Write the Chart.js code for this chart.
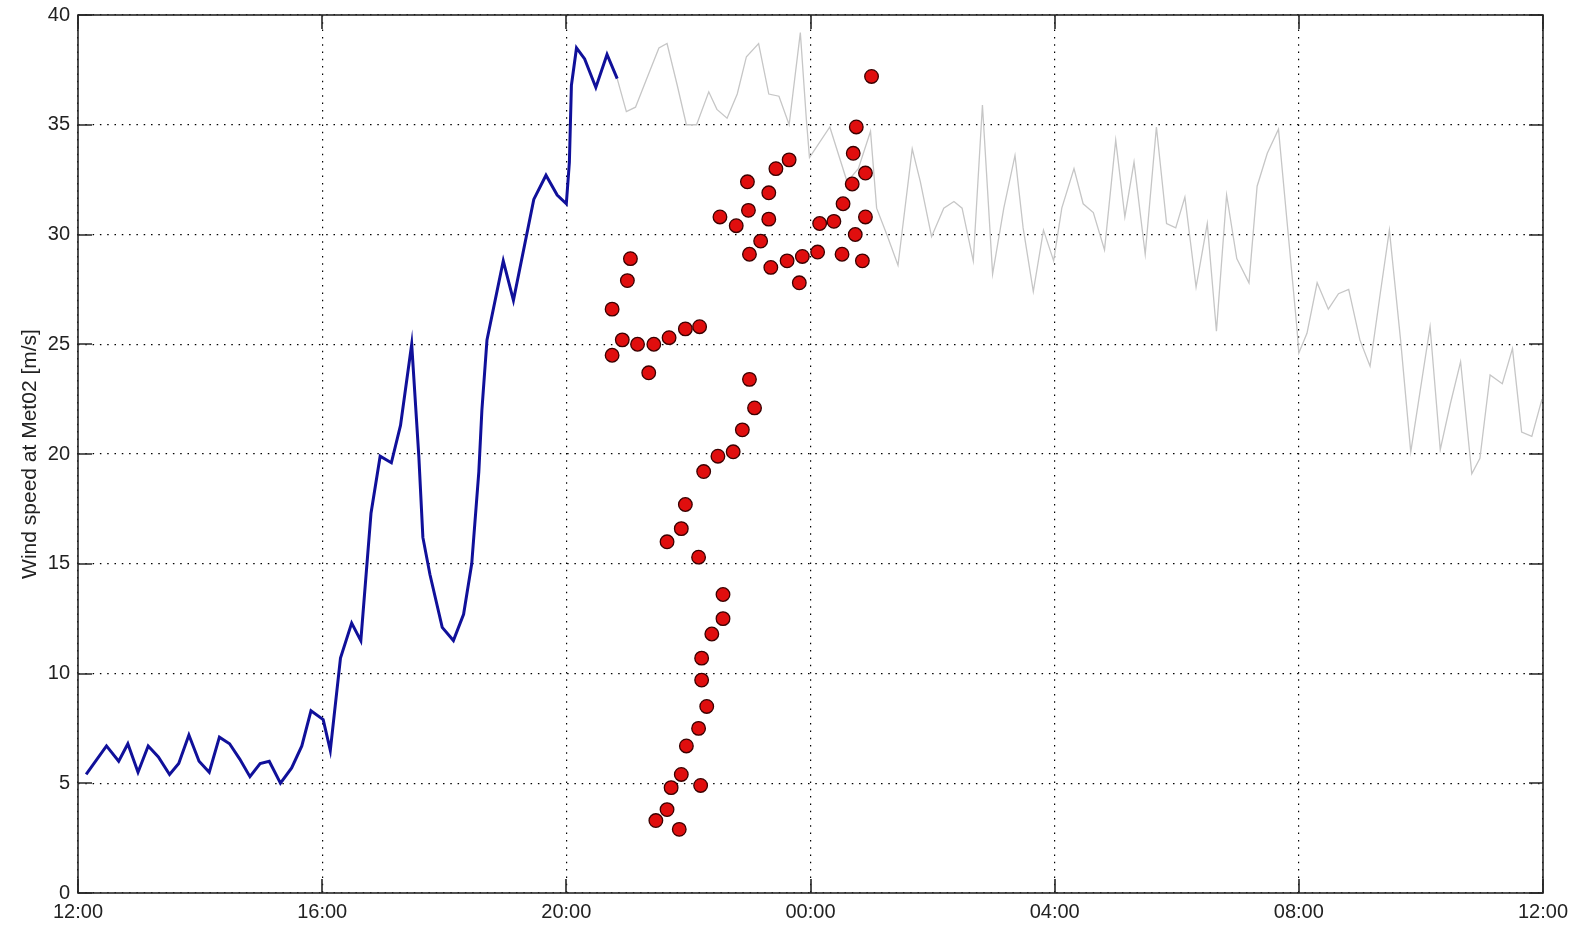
<!DOCTYPE html>
<html>
<head>
<meta charset="utf-8">
<script src="https://cdn.jsdelivr.net/npm/chart.js@4.4.1/dist/chart.umd.min.js"></script>
<style>
  body { margin: 0; background: #fff; }
  canvas { display: block; }
</style>
</head>
<body>
<canvas id="windChart" width="1580" height="926"></canvas>
<script>
// time is minutes after 12:00 on day 1
const xTickLabels = ['12:00', '16:00', '20:00', '00:00', '04:00', '08:00', '12:00'];

const measuredMin = [8, 28, 40, 49, 59, 69, 79, 90, 99, 109, 119, 129, 139, 149, 159, 169, 179, 188, 199, 210,
    220, 229, 241, 248, 258, 269, 278, 288, 297, 308, 317, 328, 335, 339, 346, 358, 369, 379, 387, 394,
    397, 402, 418, 428, 448, 460, 471, 480, 483, 485, 490, 498, 509, 520, 530];
const measuredSpeed = [5.4, 6.7, 6.0, 6.8, 5.5, 6.7, 6.2, 5.4, 5.9, 7.2, 6.0, 5.5, 7.1, 6.8, 6.1, 5.3, 5.9, 6.0, 5.0, 5.7,
    6.7, 8.3, 7.9, 6.5, 10.7, 12.3, 11.5, 17.3, 19.9, 19.6, 21.3, 25.0, 19.9, 16.2, 14.5, 12.1, 11.5, 12.7, 15.0, 19.2,
    22.0, 25.2, 28.8, 27.0, 31.6, 32.7, 31.8, 31.4, 33.3, 36.8, 38.5, 38.0, 36.7, 38.2, 37.1];

const laterMin = [530, 539, 548, 559, 571, 579, 589, 598, 608, 620, 628, 638, 648, 657, 669, 679, 689, 699, 710, 716,
    719, 739, 756, 767, 779, 785, 795, 806, 820, 828, 839, 851, 861, 869, 880, 889, 899, 910, 921, 929,
    939, 949, 959, 967, 979, 988, 998, 1009, 1020, 1029, 1038, 1049, 1060, 1070, 1079, 1088, 1099, 1110, 1119, 1129,
    1139, 1151, 1159, 1169, 1180, 1198, 1200, 1208, 1218, 1229, 1239, 1249, 1260, 1270, 1280, 1289, 1300, 1310, 1319, 1329,
    1339, 1349, 1359, 1370, 1378, 1388, 1400, 1410, 1419, 1429, 1439];
const laterSpeed = [37.1, 35.6, 35.8, 37.1, 38.5, 38.7, 36.8, 35.0, 35.0, 36.5, 35.7, 35.3, 36.4, 38.1, 38.7, 36.4, 36.3, 35.0, 39.2, 35.2,
    33.5, 34.9, 32.4, 33.0, 34.7, 31.2, 30.0, 28.6, 33.9, 32.4, 29.9, 31.2, 31.5, 31.2, 28.8, 35.9, 28.2, 31.2, 33.6, 30.3,
    27.4, 30.2, 28.8, 31.2, 33.0, 31.4, 31.0, 29.3, 34.3, 30.8, 33.3, 29.1, 34.9, 30.5, 30.3, 31.7, 27.6, 30.5, 25.6, 31.8,
    28.9, 27.8, 32.2, 33.7, 34.8, 25.8, 24.6, 25.5, 27.8, 26.6, 27.3, 27.5, 25.2, 24.0, 27.3, 30.2, 25.2, 20.1, 22.8, 25.8,
    20.2, 22.3, 24.2, 19.1, 19.8, 23.6, 23.2, 24.8, 21.0, 20.8, 22.5];

const eventMin = [525, 525, 535, 540, 543, 550, 561, 566, 581, 597, 611,
    660, 665, 653, 644, 629, 615, 597, 593, 579, 610, 634, 634, 623, 613, 613, 618, 610, 598, 593, 583, 612, 579, 568, 591,
    631, 647, 658, 659, 660, 671, 679, 679, 681, 686, 697, 699, 709, 712, 727, 729, 743, 751, 752, 761, 762, 765, 764,
    771, 774, 774, 780];
const eventSpeed = [26.6, 24.5, 25.2, 27.9, 28.9, 25.0, 23.7, 25.0, 25.3, 25.7, 25.8,
    23.4, 22.1, 21.1, 20.1, 19.9, 19.2, 17.7, 16.6, 16.0, 15.3, 13.6, 12.5, 11.8, 10.7, 9.7, 8.5, 7.5, 6.7, 5.4, 4.8, 4.9, 3.8, 3.3, 2.9,
    30.8, 30.4, 32.4, 31.1, 29.1, 29.7, 31.9, 30.7, 28.5, 33.0, 28.8, 33.4, 27.8, 29.0, 29.2, 30.5, 30.6, 29.1, 31.4,
    32.3, 33.7, 34.9, 30.0, 28.8, 32.8, 30.8, 37.2];

function toPoints(xs, ys) {
    return xs.map((x, i) => ({ x: x, y: ys[i] }));
}

// matlab style box with inward ticks
const axisBox = {
    id: 'axisBox',
    afterDraw(chart) {
        const { ctx, chartArea: a, scales: { x, y } } = chart;
        ctx.save();
        ctx.strokeStyle = '#262626';
        ctx.lineWidth = 1.6;
        ctx.strokeRect(a.left, a.top, a.right - a.left, a.bottom - a.top);
        ctx.beginPath();
        x.ticks.forEach(t => {
            const px = Math.round(x.getPixelForValue(t.value));
            ctx.moveTo(px, a.bottom); ctx.lineTo(px, a.bottom - 14);
            ctx.moveTo(px, a.top); ctx.lineTo(px, a.top + 14);
        });
        y.ticks.forEach(t => {
            const py = Math.round(y.getPixelForValue(t.value));
            ctx.moveTo(a.left, py); ctx.lineTo(a.left + 14, py);
            ctx.moveTo(a.right, py); ctx.lineTo(a.right - 14, py);
        });
        ctx.stroke();
        ctx.restore();
    }
};

const tickFont = { family: '"Liberation Sans", Arial, sans-serif', size: 20 };

new Chart(document.getElementById('windChart').getContext('2d'), {
    type: 'scatter',
    data: {
        datasets: [
            {
                label: 'events',
                data: toPoints(eventMin, eventSpeed),
                showLine: false,
                pointRadius: 6.8,
                pointBackgroundColor: '#e00e0e',
                pointBorderColor: '#3a0000',
                pointBorderWidth: 1.3
            },
            {
                label: 'measured',
                data: toPoints(measuredMin, measuredSpeed),
                showLine: true,
                borderColor: '#10109a',
                borderWidth: 3,
                pointRadius: 0,
                tension: 0
            },
            {
                label: 'later',
                data: toPoints(laterMin, laterSpeed),
                showLine: true,
                borderColor: '#c6c6c6',
                borderWidth: 1.3,
                pointRadius: 0,
                tension: 0
            }
        ]
    },
    options: {
        responsive: false,
        animation: false,
        layout: { padding: { top: 15, right: 37, left: 0, bottom: 0 } },
        plugins: { legend: { display: false }, tooltip: { enabled: false } },
        scales: {
            x: {
                type: 'linear',
                min: 0,
                max: 1440,
                afterFit: s => { s.height = 33; },
                ticks: {
                    stepSize: 240,
                    padding: 7,
                    maxRotation: 0,
                    color: '#222',
                    font: tickFont,
                    callback: v => xTickLabels[v / 240]
                },
                grid: { color: '#000', lineWidth: 1.2, drawTicks: false },
                border: { display: false, dash: [1.5, 5.8] }
            },
            y: {
                min: 0,
                max: 40,
                afterFit: s => { s.width = 78; s.paddingTop = 8; s.paddingBottom = 8; },
                ticks: { stepSize: 5, padding: 8, color: '#222', font: tickFont },
                grid: { color: '#000', lineWidth: 1.2, drawTicks: false },
                border: { display: false, dash: [1.5, 5.8] },
                title: {
                    display: true,
                    text: 'Wind speed at Met02 [m/s]',
                    color: '#222',
                    font: { family: '"Liberation Sans", Arial, sans-serif', size: 21 },
                    padding: { top: 18, bottom: 0 }
                }
            }
        }
    },
    plugins: [axisBox]
});
</script>
</body>
</html>
